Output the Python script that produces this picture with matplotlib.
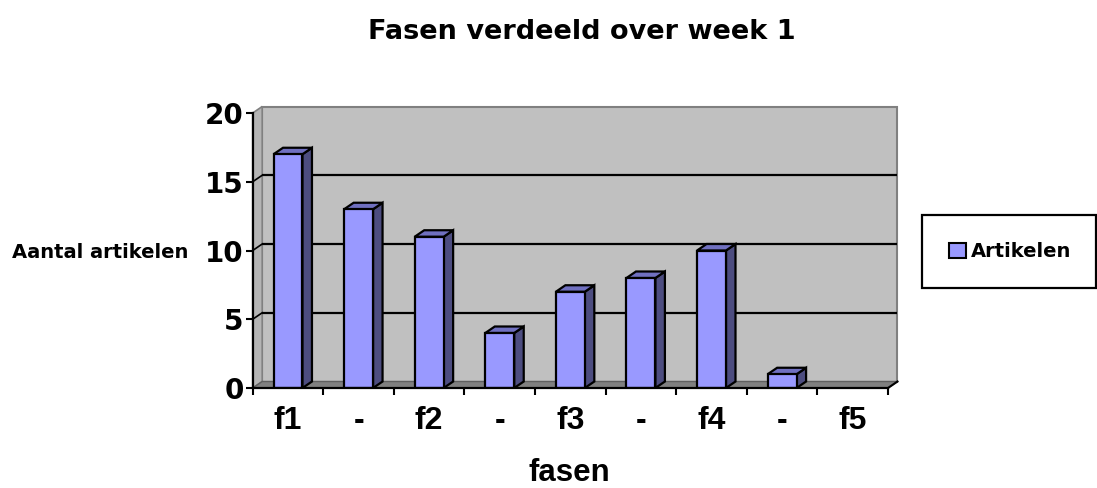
import matplotlib
matplotlib.use('Agg')
import matplotlib.pyplot as plt
from matplotlib.patches import Rectangle, Polygon, Patch

plt.rcParams['font.family'] = ['DejaVu Sans']
plt.rcParams['font.weight'] = 'bold'
ARIAL = ['Liberation Sans', 'DejaVu Sans']

# data
categories = ['f1', '-', 'f2', '-', 'f3', '-', 'f4', '-', 'f5']
artikelen = [17, 13, 11, 4, 7, 8, 10, 1, 0]
y_ticks = [0, 5, 10, 15, 20]

W, H = 1097, 488
fig = plt.figure(figsize=(W / 100, H / 100), dpi=100, facecolor='white')

# plot area (front plane) in pixels
px_l, px_r, px_b, px_t = 252.7, 888.0, 388.0, 113.0
ax = fig.add_axes([px_l / W, (H - px_b) / H, (px_r - px_l) / W, (px_b - px_t) / H])
n = len(categories)
ax.set_xlim(-0.5, n - 0.5)
ax.set_ylim(0, 20)
ax.patch.set_visible(False)

# 3D depth offset (pixels -> data units)
ddx = 9.5 / ((px_r - px_l) / n)
ddy = 6.5 / ((px_b - px_t) / 20)

x0, x1 = -0.5, n - 0.5

# back wall
ax.add_patch(Rectangle((x0 + ddx, ddy), n, 20, facecolor='#C0C0C0',
                       edgecolor='#808080', lw=1.5, zorder=0.5, clip_on=False))
# left wall
ax.add_patch(Polygon([(x0, 0), (x0 + ddx, ddy), (x0 + ddx, 20 + ddy), (x0, 20)],
                     facecolor='#B4B4B4', edgecolor='#808080', lw=1.2,
                     zorder=0.6, clip_on=False))
# floor
ax.add_patch(Polygon([(x0, 0), (x1, 0), (x1 + ddx, ddy), (x0 + ddx, ddy)],
                     facecolor='#808080', edgecolor='#606060', lw=1.0,
                     zorder=0.7, clip_on=False))

# gridlines on back and left walls
for g in y_ticks[1:-1]:
    ax.plot([x0 + ddx, x1 + ddx], [g + ddy, g + ddy], color='black', lw=1.6,
            zorder=1, clip_on=False, solid_capstyle='butt')
    ax.plot([x0, x0 + ddx], [g, g + ddy], color='black', lw=1.2,
            zorder=1, clip_on=False)
ax.plot([x1, x1 + ddx], [0, ddy], color='black', lw=1.5, zorder=1, clip_on=False)

# bars
xs = list(range(n))
bars = ax.bar(xs, artikelen, width=0.41, color='#9999FF', edgecolor='black',
              lw=1.6, zorder=4)
for b, h in zip(bars, artikelen):
    if h <= 0:
        b.set_visible(False)
        continue
    bl = b.get_x()
    br = bl + b.get_width()
    ax.add_patch(Polygon([(br, 0), (br + ddx, ddy), (br + ddx, h + ddy), (br, h)],
                         facecolor='#4D4D80', edgecolor='black', lw=1.6,
                         zorder=3, joinstyle='miter'))
    ax.add_patch(Polygon([(bl, h), (bl + ddx, h + ddy), (br + ddx, h + ddy), (br, h)],
                         facecolor='#7070C0', edgecolor='black', lw=1.6,
                         zorder=3, joinstyle='miter'))

# axes
for s in ['top', 'right']:
    ax.spines[s].set_visible(False)
for s in ['left', 'bottom']:
    ax.spines[s].set_color('black')
    ax.spines[s].set_linewidth(1.6)
    ax.spines[s].set_zorder(5)

ax.set_yticks(y_ticks)
ax.set_yticklabels([str(t) for t in y_ticks], fontsize=20, fontweight='bold')
ax.tick_params(axis='y', direction='out', length=5, width=1.5, pad=1.5)

ax.set_xticks(xs)
ax.set_xticklabels(categories, fontsize=23, fontweight='bold', family=ARIAL)
ax.set_xticks([i - 0.5 for i in range(n + 1)], minor=True)
ax.tick_params(axis='x', which='major', length=0, pad=13)
ax.tick_params(axis='x', which='minor', direction='out', length=5, width=1.5)

ax.set_ylabel('Aantal artikelen', fontsize=14, fontweight='bold', rotation=0,
              ha='center', va='baseline')
ax.yaxis.set_label_coords((100 - px_l) / (px_r - px_l), (px_b - 258) / (px_b - px_t))
ax.set_xlabel('fasen', fontsize=22.5, fontweight='bold', va='baseline', family=ARIAL)
ax.xaxis.set_label_coords((569 - px_l) / (px_r - px_l), (px_b - 481) / (px_b - px_t))

fig.text(582 / W, 1 - 39 / H, 'Fasen verdeeld over week 1', fontsize=19.5,
         fontweight='bold', ha='center', va='baseline')

# legend
handle = Patch(facecolor='#9999FF', edgecolor='black', lw=1.5)
leg = fig.legend([handle], ['Artikelen'], loc='center',
                 bbox_to_anchor=(922 / W, 1 - 292 / H, 174 / W, 81 / H),
                 mode='expand', fontsize=14, frameon=True, fancybox=False,
                 borderpad=1.4, handlelength=0.85, handleheight=0.8,
                 handletextpad=0.25, borderaxespad=0)
leg.get_frame().set_edgecolor('black')
leg.get_frame().set_linewidth(1.6)
leg.get_frame().set_alpha(1)
for t in leg.get_texts():
    t.set_fontweight('bold')

fig.savefig('out.png', dpi=100, facecolor='white')
